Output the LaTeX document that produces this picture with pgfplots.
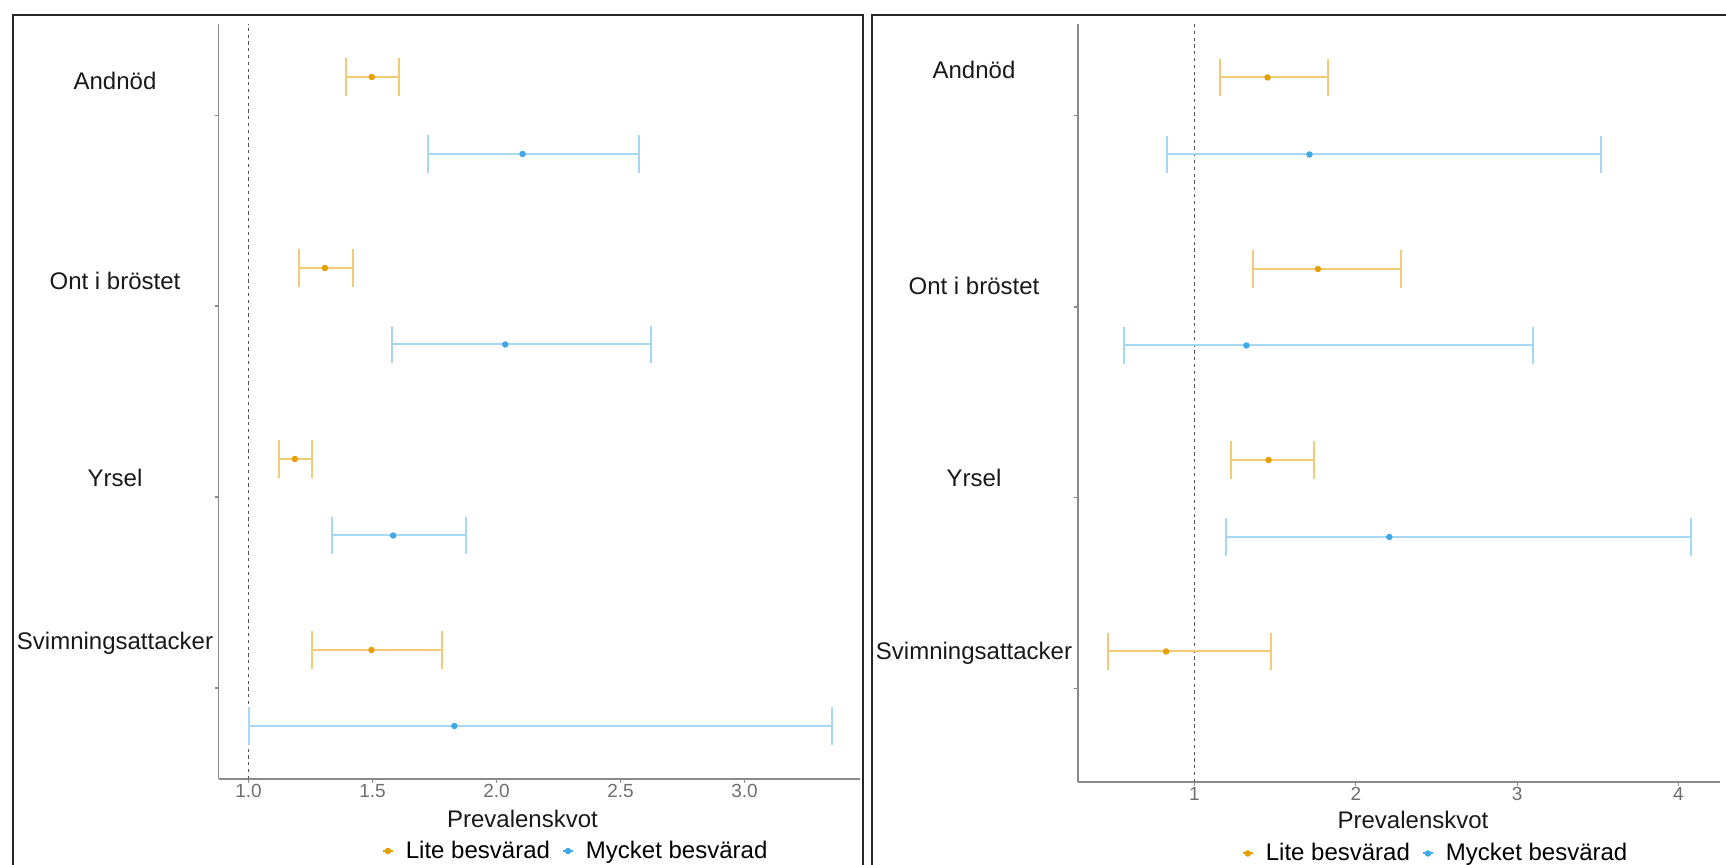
\documentclass[border=0pt]{standalone}
\usepackage{fontspec}
\setmainfont{Liberation Sans}
\usepackage{pgfplots}
\usepackage{pgfplotstable}
\pgfplotsset{compat=1.18}
\definecolor{orgpt}{HTML}{E69F00}
\definecolor{orgbar}{HTML}{F2CB74}
\definecolor{blupt}{HTML}{3FA9E8}
\definecolor{blubar}{HTML}{A6D8F4}
\definecolor{axgray}{HTML}{8A8A8A}
\definecolor{tickgray}{HTML}{6E6E6E}
\definecolor{refgray}{HTML}{555555}

% x = estimate, lo/hi = interval, y = vertical position (negative pixel row)
\pgfplotstableread{
x     lo    hi    y
1.497 1.394 1.605 -77
1.308 1.203 1.421 -268
1.187 1.123 1.256 -459
1.496 1.256 1.781 -650
}\leftorange
\pgfplotstableread{
x     lo    hi    y
2.105 1.722 2.573 -154
2.035 1.579 2.622 -344.5
1.583 1.336 1.875 -535.5
1.830 1.000 3.352 -726
}\leftblue
\pgfplotstableread{
x     lo    hi    y
1.453 1.155 1.827 -77.5
1.765 1.362 2.280 -269
1.459 1.224 1.740 -460
0.824 0.464 1.476 -651.5
}\rightorange
\pgfplotstableread{
x     lo    hi    y
1.713 0.830 3.523 -154.5
1.322 0.564 3.100 -345.5
2.208 1.195 4.080 -537
}\rightblue

\pgfplotsset{
 panel/.style={
  scale only axis, anchor=south west,
  axis x line*=bottom, axis y line*=left,
  axis line style={-, axgray, line width=0.8pt},
  tick style={axgray, line width=0.6pt},
  tick align=outside, major tick length=1.8pt,
  yticklabels={},
  ticklabel style={font=\fontsize{9.5}{11}\selectfont, text=tickgray},
  xticklabel style={yshift=2.75pt},
  /pgf/number format/assume math mode=true,
  clip=false,
  legend columns=2,
  legend style={draw=none, fill=none, inner sep=0pt, outer sep=0pt,
     column sep=4pt, anchor=west,
     font=\fontsize{12}{14}\selectfont},
  legend image code/.code={\draw[line width=1pt] (0pt,0pt) -- (5pt,0pt); \fill (2.5pt,0pt) circle (1.4pt);},
 },
 ebar/.style={only marks, mark=*, mark size=1.4pt, mark options={draw=none},
   error bars/.cd, x dir=both, x explicit, error mark=|,
   error bar style={line width=1pt, color=#1},
   error mark options={line width=1pt, color=#1, mark size=9.4pt}},
}

\begin{document}
\begin{tikzpicture}
\useasboundingbox (0,0) rectangle (863pt,432.5pt);
% panel frames
\draw[line width=1.1pt, black!85] (6.5pt,-5pt) -- (6.5pt,425pt) -- (431.4pt,425pt) -- (431.4pt,-5pt);
\draw[line width=1.1pt, black!85] (436pt,-5pt) -- (436pt,425pt) -- (870pt,425pt);

% ---------- left panel ----------
\begin{axis}[panel, at={(109.25pt,43pt)}, width=320.75pt, height=377.5pt,
  xmin=0.879, xmax=3.4657, ymin=-779, ymax=-24,
  xtick={1,1.5,2,2.5,3},
  xticklabels={1.0,1.5,2.0,2.5,3.0},
  ytick={-688,-497,-306,-115.5},
  legend style={at={(axis description cs:0.2547,-0.0954)}},
]
\addplot[refgray, line width=0.7pt, dash pattern=on 1.6pt off 1.8pt, forget plot] coordinates {(1,-779) (1,-24)};
\addplot[orgpt, ebar=orgbar] table[x=x, y=y, x error plus expr=\thisrow{hi}-\thisrow{x}, x error minus expr=\thisrow{x}-\thisrow{lo}] {\leftorange};
\addplot[blupt, ebar=blubar] table[x=x, y=y, x error plus expr=\thisrow{hi}-\thisrow{x}, x error minus expr=\thisrow{x}-\thisrow{lo}] {\leftblue};
\legend{Lite besvärad, Mycket besvärad}
\end{axis}

% ---------- right panel ----------
\begin{axis}[panel, at={(539pt,41.5pt)}, width=321pt, height=379pt,
  xmin=0.2777, xmax=4.258, ymin=-782, ymax=-24,
  xtick={1,2,3,4},
  ytick={-688.5,-497.5,-307,-115.5},
  legend style={at={(axis description cs:0.2552,-0.0943)}},
]
\addplot[refgray, line width=0.7pt, dash pattern=on 1.6pt off 1.8pt, forget plot] coordinates {(1,-782) (1,-24)};
\addplot[orgpt, ebar=orgbar] table[x=x, y=y, x error plus expr=\thisrow{hi}-\thisrow{x}, x error minus expr=\thisrow{x}-\thisrow{lo}] {\rightorange};
\addplot[blupt, ebar=blubar] table[x=x, y=y, x error plus expr=\thisrow{hi}-\thisrow{x}, x error minus expr=\thisrow{x}-\thisrow{lo}] {\rightblue};
\legend{Lite besvärad, Mycket besvärad}
\end{axis}

% category labels and axis titles
\begin{scope}[every node/.style={font=\fontsize{12}{14}\selectfont, text=black!90, anchor=base, inner sep=0pt}]
\node at (57.5pt,387.5pt) {Andnöd};
\node at (57.5pt,287.5pt) {Ont i bröstet};
\node at (57.5pt,189.15pt) {Yrsel};
\node at (57.5pt,107.5pt) {Svimningsattacker};
\node at (487pt,393.35pt) {Andnöd};
\node at (487pt,285pt) {Ont i bröstet};
\node at (487pt,189.15pt) {Yrsel};
\node at (487pt,102.85pt) {Svimningsattacker};
\node at (261.25pt,18.5pt) {Prevalenskvot};
\node at (706.5pt,18.35pt) {Prevalenskvot};
\end{scope}
\end{tikzpicture}
\end{document}
